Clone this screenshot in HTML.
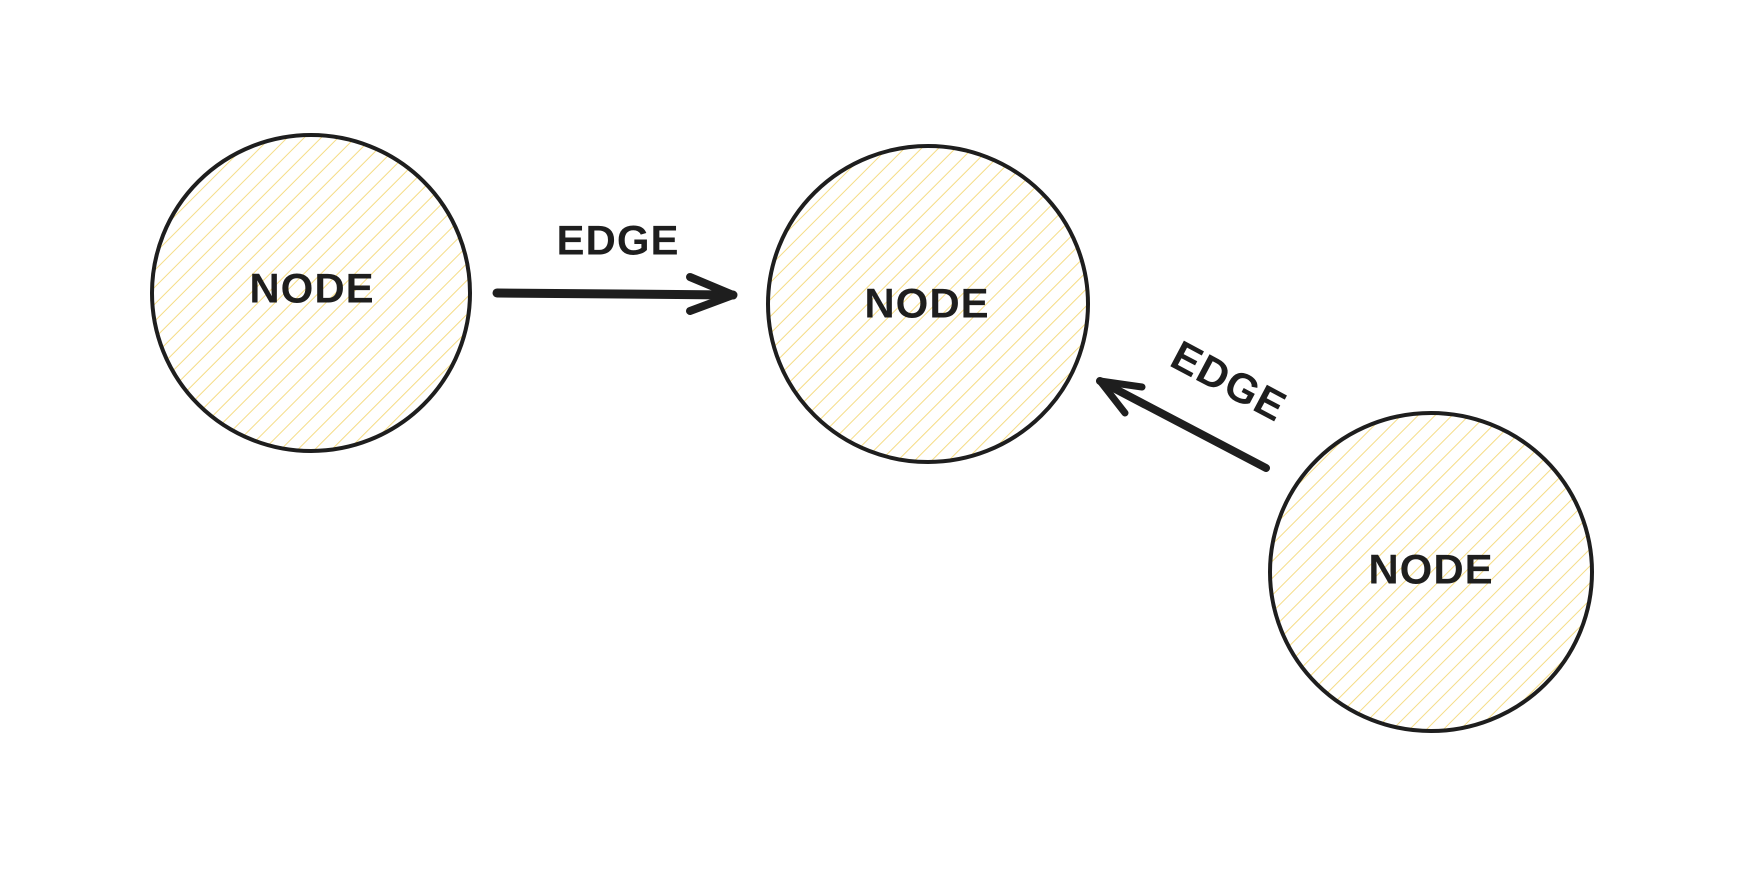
<!DOCTYPE html>
<html><head><meta charset="utf-8"><style>
html,body{margin:0;padding:0;background:#fff;}
svg{display:block}
text{font-family:"Liberation Sans",sans-serif;font-weight:bold;fill:#1e1e1e;font-size:42px;text-anchor:middle;dominant-baseline:central;letter-spacing:1px}
</style></head><body>
<svg width="1750" height="888" viewBox="0 0 1750 888" xmlns="http://www.w3.org/2000/svg">
<defs>
<pattern id="h" patternUnits="userSpaceOnUse" width="12" height="12" patternTransform="rotate(45)">
<line x1="0" y1="0" x2="0" y2="12" stroke="#f5dc85" stroke-width="2"/>
</pattern>
</defs>
<g stroke="#1e1e1e" stroke-width="4" fill="url(#h)">
<ellipse cx="311" cy="293" rx="159" ry="158"/>
<ellipse cx="928" cy="304" rx="160" ry="158"/>
<ellipse cx="1431" cy="572" rx="161" ry="159"/>
</g>
<g stroke="#1e1e1e" fill="none" stroke-linecap="round" stroke-linejoin="round">
<path d="M497 293 L733 295" stroke-width="9"/>
<path d="M690 277 L733 295 L690 311" stroke-width="8"/>
<path d="M1266 468 L1100 381" stroke-width="8"/>
<path d="M1125 413 L1100 381 L1142 387" stroke-width="7"/>
</g>
<text x="312" y="288">NODE</text>
<text x="927" y="303">NODE</text>
<text x="1431" y="569">NODE</text>
<text x="618" y="240">EDGE</text>
<text x="1229" y="381" transform="rotate(28 1229 381)">EDGE</text>
</svg>
</body></html>
